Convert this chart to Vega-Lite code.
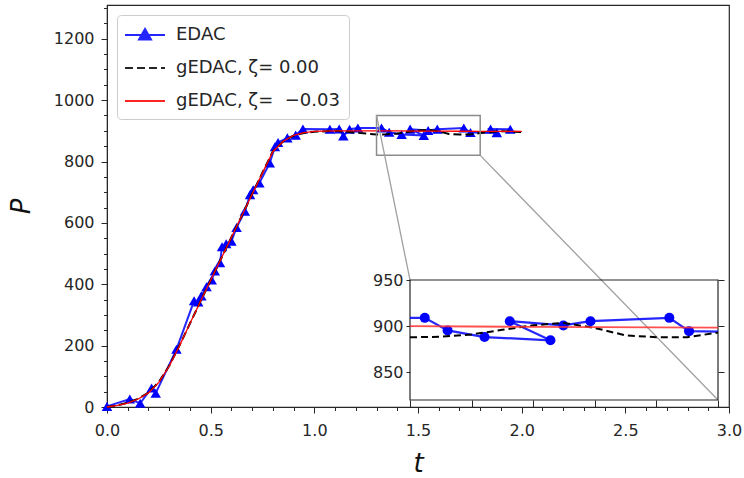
{
  "$schema": "https://vega.github.io/schema/vega-lite/v6.json",
  "width": 622,
  "height": 402,
  "autosize": {"type": "none"},
  "padding": {"left": 107, "top": 5, "right": 15, "bottom": 71},
  "background": "white",
  "config": {
    "view": {"stroke": "#262626", "strokeWidth": 1.2},
    "font": "DejaVu Sans",
    "legend": {
      "orient": "none", "legendX": 10, "legendY": 10,
      "labelFontSize": 18, "labelColor": "#262626", "labelFont": "DejaVu Sans", "labelLimit": 400,
      "symbolSize": 400, "symbolOffset": 8, "symbolStrokeWidth": 2,
      "strokeColor": "#cccccc", "fillColor": "white", "cornerRadius": 4,
      "padding": 9, "rowPadding": 13, "labelOffset": 20
    }
  },
  "datasets": {
    "edac": [
      {"i": 0, "t": 0.0, "P": 2}, {"i": 1, "t": 0.11, "P": 26}, {"i": 2, "t": 0.16, "P": 12}, {"i": 3, "t": 0.215, "P": 62},
      {"i": 4, "t": 0.235, "P": 45}, {"i": 5, "t": 0.335, "P": 188}, {"i": 6, "t": 0.42, "P": 346}, {"i": 7, "t": 0.44, "P": 342},
      {"i": 8, "t": 0.455, "P": 362}, {"i": 9, "t": 0.48, "P": 392}, {"i": 10, "t": 0.505, "P": 414}, {"i": 11, "t": 0.52, "P": 443},
      {"i": 12, "t": 0.545, "P": 470}, {"i": 13, "t": 0.555, "P": 522}, {"i": 14, "t": 0.575, "P": 532}, {"i": 15, "t": 0.6, "P": 540},
      {"i": 16, "t": 0.625, "P": 585}, {"i": 17, "t": 0.665, "P": 638}, {"i": 18, "t": 0.69, "P": 692}, {"i": 19, "t": 0.705, "P": 708},
      {"i": 20, "t": 0.735, "P": 730}, {"i": 21, "t": 0.785, "P": 795}, {"i": 22, "t": 0.81, "P": 848}, {"i": 23, "t": 0.825, "P": 862},
      {"i": 24, "t": 0.87, "P": 877}, {"i": 25, "t": 0.91, "P": 886}, {"i": 26, "t": 0.945, "P": 906}, {"i": 27, "t": 1.075, "P": 905},
      {"i": 28, "t": 1.12, "P": 906}, {"i": 29, "t": 1.14, "P": 883}, {"i": 30, "t": 1.17, "P": 905}, {"i": 31, "t": 1.21, "P": 909},
      {"i": 32, "t": 1.324, "P": 909}, {"i": 33, "t": 1.361, "P": 895.4}, {"i": 34, "t": 1.421, "P": 888.2}, {"i": 35, "t": 1.528, "P": 884.7},
      {"i": 36, "t": 1.462, "P": 905.4}, {"i": 37, "t": 1.549, "P": 900.8}, {"i": 38, "t": 1.593, "P": 905.4}, {"i": 39, "t": 1.721, "P": 909},
      {"i": 40, "t": 1.753, "P": 894.6}, {"i": 41, "t": 1.88, "P": 894}, {"i": 42, "t": 1.85, "P": 906}, {"i": 43, "t": 1.945, "P": 905}
    ],
    "g0": [
      {"t": 0, "P": 0}, {"t": 0.05, "P": 5}, {"t": 0.1, "P": 14}, {"t": 0.15, "P": 27}, {"t": 0.2, "P": 47}, {"t": 0.25, "P": 81},
      {"t": 0.3, "P": 134}, {"t": 0.35, "P": 201}, {"t": 0.4, "P": 272}, {"t": 0.45, "P": 343}, {"t": 0.5, "P": 413}, {"t": 0.55, "P": 483},
      {"t": 0.6, "P": 553}, {"t": 0.65, "P": 623}, {"t": 0.7, "P": 694}, {"t": 0.75, "P": 764}, {"t": 0.8, "P": 833}, {"t": 0.85, "P": 866},
      {"t": 0.9, "P": 884}, {"t": 0.95, "P": 893}, {"t": 1.0, "P": 897}, {"t": 1.1, "P": 900}, {"t": 1.2, "P": 894}, {"t": 1.3, "P": 888},
      {"t": 1.35, "P": 888.5}, {"t": 1.4, "P": 891}, {"t": 1.45, "P": 896}, {"t": 1.5, "P": 901}, {"t": 1.55, "P": 903.5}, {"t": 1.6, "P": 898},
      {"t": 1.65, "P": 890}, {"t": 1.7, "P": 888}, {"t": 1.75, "P": 888}, {"t": 1.8, "P": 893}, {"t": 1.9, "P": 899}, {"t": 2.0, "P": 896}
    ],
    "g1": [
      {"t": 0, "P": 0}, {"t": 0.05, "P": 5}, {"t": 0.1, "P": 13}, {"t": 0.15, "P": 26}, {"t": 0.2, "P": 46}, {"t": 0.25, "P": 80},
      {"t": 0.3, "P": 133}, {"t": 0.35, "P": 200}, {"t": 0.4, "P": 272}, {"t": 0.45, "P": 343}, {"t": 0.5, "P": 413}, {"t": 0.55, "P": 483},
      {"t": 0.6, "P": 553}, {"t": 0.65, "P": 623}, {"t": 0.7, "P": 693}, {"t": 0.75, "P": 763}, {"t": 0.8, "P": 832}, {"t": 0.85, "P": 866},
      {"t": 0.9, "P": 885}, {"t": 0.95, "P": 894}, {"t": 1.0, "P": 898}, {"t": 1.1, "P": 900}, {"t": 1.2, "P": 900}, {"t": 1.3, "P": 900},
      {"t": 1.4, "P": 899.6}, {"t": 1.5, "P": 899.2}, {"t": 1.6, "P": 898.9}, {"t": 1.7, "P": 898.6}, {"t": 1.8, "P": 898.3}, {"t": 1.9, "P": 898},
      {"t": 2.0, "P": 898}
    ],
    "box": [{"t": 1.3, "t2": 1.8, "P": 820, "P2": 950}],
    "conn": [
      {"t": 1.3, "P": 950, "t2": 1.4614, "P2": 413.9},
      {"t": 1.8, "P": 820, "t2": 2.9469, "P2": 22.8}
    ]
  },
  "layer": [
    {
      "encoding": {
        "x": {
          "field": "t", "type": "quantitative",
          "scale": {"domain": [0, 3], "nice": false, "zero": false},
          "axis": {
            "values": [0, 0.1, 0.2, 0.3, 0.4, 0.5, 0.6, 0.7, 0.8, 0.9, 1.0, 1.1, 1.2, 1.3, 1.4, 1.5, 1.6, 1.7, 1.8, 1.9, 2.0, 2.1, 2.2, 2.3, 2.4, 2.5, 2.6, 2.7, 2.8, 2.9, 3.0],
            "labelExpr": "abs(datum.value*2 - round(datum.value*2)) < 0.001 ? format(datum.value, '.1f') : ''",
            "labelOverlap": false,
            "labelFlush": false,
            "tickSize": {"condition": {"test": "abs(datum.value*2 - round(datum.value*2)) < 0.001", "value": 6}, "value": 3.5},
            "tickColor": "#262626", "domainColor": "#262626", "labelColor": "#262626",
            "labelFontSize": 16, "labelPadding": 9,
            "grid": false,
            "title": "t", "titleFontSize": 26, "titleFontStyle": "italic", "titleFontWeight": "normal", "titleColor": "#111", "titlePadding": 12
          }
        },
        "y": {
          "field": "P", "type": "quantitative",
          "scale": {"domain": [0, 1310], "nice": false},
          "axis": {
            "values": [0, 50, 100, 150, 200, 250, 300, 350, 400, 450, 500, 550, 600, 650, 700, 750, 800, 850, 900, 950, 1000, 1050, 1100, 1150, 1200, 1250, 1300],
            "format": "d",
            "labelExpr": "datum.value % 200 === 0 ? datum.label : ''",
            "labelOverlap": false,
            "labelFlush": false,
            "tickSize": {"condition": {"test": "datum.value % 200 === 0", "value": 6}, "value": 3.5},
            "tickColor": "#262626", "domainColor": "#262626", "labelColor": "#262626",
            "labelFontSize": 16, "labelPadding": 7,
            "grid": false,
            "title": "P", "titleFontSize": 26, "titleFontStyle": "italic", "titleFontWeight": "normal", "titleColor": "#111", "titlePadding": 19
          }
        }
      },
      "layer": [
        {
          "data": {"name": "edac"},
          "mark": {"type": "line", "strokeWidth": 2, "opacity": 0.85},
          "encoding": {
            "order": {"field": "i", "type": "quantitative"},
            "color": {
              "datum": "EDAC",
              "scale": {"domain": ["EDAC", "gEDAC, ζ= 0.00", "gEDAC, ζ=\u00a0 −0.03"], "range": ["#0000ff", "#000000", "#ff0000"]},
              "legend": {"title": null}
            }
          }
        },
        {
          "data": {"name": "edac"},
          "mark": {"type": "point", "shape": "triangle-up", "filled": true, "size": 110, "opacity": 1},
          "encoding": {"color": {"datum": "EDAC"}}
        },
        {
          "data": {"name": "g0"},
          "mark": {"type": "line", "strokeWidth": 2},
          "encoding": {
            "color": {"datum": "gEDAC, ζ= 0.00"},
            "strokeDash": {
              "datum": "gEDAC, ζ= 0.00",
              "scale": {"domain": ["EDAC", "gEDAC, ζ= 0.00", "gEDAC, ζ=\u00a0 −0.03"], "range": [[1, 0], [8, 4], [1, 0]]},
              "legend": {"title": null}
            }
          }
        },
        {
          "data": {"name": "g1"},
          "mark": {"type": "line", "strokeWidth": 1.3},
          "encoding": {"color": {"datum": "gEDAC, ζ=\u00a0 −0.03"}}
        },
        {
          "data": {"name": "edac"},
          "transform": [{"filter": "false"}],
          "mark": {"type": "point", "filled": true},
          "encoding": {
            "shape": {
              "datum": "EDAC",
              "scale": {"domain": ["EDAC", "gEDAC, ζ= 0.00", "gEDAC, ζ=\u00a0 −0.03"], "range": ["M-2,0H2M0,-0.6L0.6,0.45L-0.6,0.45Z", "M-2,0H2", "M-2,0H2"]},
              "legend": {"title": null}
            }
          }
        },
        {
          "data": {"name": "box"},
          "mark": {"type": "rect", "fill": "transparent", "stroke": "#8c8c8c", "strokeWidth": 1.5},
          "encoding": {"x2": {"field": "t2"}, "y2": {"field": "P2"}}
        },
        {
          "data": {"name": "conn"},
          "mark": {"type": "rule", "color": "#a0a0a0", "strokeWidth": 1.3},
          "encoding": {"x2": {"field": "t2"}, "y2": {"field": "P2"}}
        }
      ]
    },
    {
      "encoding": {
        "x": {
          "field": "t", "type": "quantitative",
          "scale": {"domain": [1.3, 1.8], "range": [303, 611], "nice": false, "zero": false, "clamp": true},
          "axis": {
            "orient": "bottom", "offset": -7,
            "values": [1.3, 1.4, 1.5, 1.6, 1.7, 1.8],
            "labels": false, "domain": false, "grid": false,
            "tickSize": 7, "tickColor": "#262626", "title": null
          }
        },
        "y": {
          "field": "P", "type": "quantitative",
          "scale": {"domain": [820, 950], "range": [395, 275], "nice": false, "zero": false, "clamp": true},
          "axis": null
        }
      },
      "layer": [
        {
          "data": {"name": "box"},
          "mark": {"type": "rect", "fill": "transparent", "stroke": "#262626", "strokeWidth": 1.2},
          "encoding": {
            "x2": {"field": "t2"},
            "y": {
              "field": "P", "type": "quantitative",
              "scale": {"domain": [820, 950], "range": [395, 275], "nice": false, "zero": false, "clamp": true},
              "axis": {
                "orient": "left", "offset": -303,
                "values": [850, 900, 950], "format": "d",
                "domain": false, "grid": false, "labelFlush": false, "labelOverlap": false,
                "tickSize": 4, "tickColor": "#262626", "labelColor": "#262626",
                "labelFontSize": 16, "labelPadding": 3, "title": null
              }
            },
            "y2": {"field": "P2"}
          }
        },
        {
          "data": {"name": "edac"},
          "transform": [{"filter": "datum.i >= 31 && datum.i <= 41"}],
          "mark": {"type": "line", "strokeWidth": 2.2, "color": "#0000ff", "opacity": 0.85},
          "encoding": {
            "order": {"field": "i", "type": "quantitative"},
            "y": {
              "field": "P", "type": "quantitative",
              "scale": {"domain": [820, 950], "range": [395, 275], "nice": false, "zero": false, "clamp": true},
              "axis": {
                "orient": "right", "offset": -11,
                "values": [850, 900, 950],
                "domain": false, "grid": false, "labels": false,
                "tickSize": 6, "tickColor": "#262626", "title": null
              }
            }
          }
        },
        {
          "data": {"name": "edac"},
          "transform": [{"filter": "datum.t >= 1.3 && datum.t <= 1.8"}],
          "mark": {"type": "circle", "size": 100, "color": "#0000ff", "opacity": 1}
        },
        {
          "data": {"name": "g0"},
          "transform": [{"filter": "datum.t >= 1.3 && datum.t <= 1.8"}],
          "mark": {"type": "line", "strokeWidth": 2, "strokeDash": [7, 4], "color": "#000000"}
        },
        {
          "data": {"name": "g1"},
          "transform": [{"filter": "datum.t >= 1.3 && datum.t <= 1.8"}],
          "mark": {"type": "line", "strokeWidth": 1.8, "color": "#ff3030", "opacity": 0.85}
        }
      ]
    }
  ],
  "resolve": {
    "scale": {"x": "independent", "y": "independent"},
    "axis": {"x": "independent", "y": "independent"}
  }
}
